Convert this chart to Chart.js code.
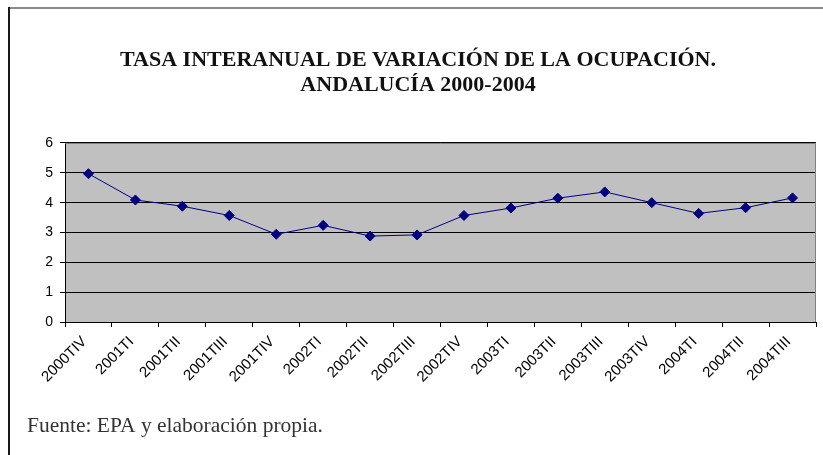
<!DOCTYPE html>
<html>
<head>
<meta charset="utf-8">
<script src="https://cdn.jsdelivr.net/npm/chart.js@4/dist/chart.umd.min.js"></script>
<style>
  html, body { margin: 0; padding: 0; background: #fff; }
  #wrap { width: 823px; height: 455px; position: relative; }
</style>
</head>
<body>
<div id="wrap"><canvas id="chart" width="823" height="455"></canvas></div>
<script>
const quarters = ['2000TIV', '2001TI', '2001TII', '2001TIII', '2001TIV', '2002TI', '2002TII', '2002TIII',
                  '2002TIV', '2003TI', '2003TII', '2003TIII', '2003TIV', '2004TI', '2004TII', '2004TIII']
const tasa = [4.97, 4.09, 3.88, 3.57, 2.94, 3.24, 2.88, 2.92, 3.57, 3.82, 4.15, 4.36, 4.0, 3.64, 3.83, 4.16]
const titleLines = ['TASA INTERANUAL DE VARIACIÓN DE LA OCUPACIÓN.', 'ANDALUCÍA 2000-2004']
const source = 'Fuente: EPA y elaboración propia.'

const navy = '#000080'

// grey plot background, plot border, outer frame and the source note
const decor = {
    id: 'decor',
    beforeDraw(chart){
        const ctx = chart.ctx
        const a = chart.chartArea
        ctx.save()
        ctx.fillStyle = '#c0c0c0'
        ctx.fillRect(a.left, a.top, a.right - a.left, a.bottom - a.top)
        ctx.restore()
    },
    afterDraw(chart){
        const ctx = chart.ctx
        const a = chart.chartArea
        ctx.save()
        ctx.lineWidth = 1
        ctx.strokeStyle = '#808080'
        ctx.beginPath()
        ctx.moveTo(a.left, a.top + 0.5)
        ctx.lineTo(a.right - 0.5, a.top + 0.5)
        ctx.lineTo(a.right - 0.5, a.bottom)
        ctx.stroke()
        // outer frame: grey top line, dark left line
        ctx.lineWidth = 2
        ctx.strokeStyle = '#8a8a8a'
        ctx.beginPath()
        ctx.moveTo(9, 8)
        ctx.lineTo(823, 8)
        ctx.stroke()
        ctx.strokeStyle = '#1a1a1a'
        ctx.beginPath()
        ctx.moveTo(9, 7)
        ctx.lineTo(9, 455)
        ctx.stroke()
        ctx.fillStyle = '#333'
        ctx.font = '21.5px "Liberation Serif", "Times New Roman", serif'
        ctx.textBaseline = 'alphabetic'
        ctx.fillText(source, 27, 432)
        ctx.restore()
    }
}

new Chart(document.getElementById('chart'), {
    type: 'line',
    data: {
        labels: quarters,
        datasets: [{
            data: tasa,
            borderColor: navy,
            backgroundColor: navy,
            borderWidth: 1,
            pointStyle: 'rectRot',
            pointRadius: 5,
            pointBorderWidth: 1,
            tension: 0,
        }]
    },
    options: {
        responsive: false,
        animation: false,
        layout: { padding: { left: 20, right: 7, top: 0, bottom: 0 } },
        plugins: {
            legend: { display: false },
            tooltip: { enabled: false },
            title: {
                display: true,
                text: titleLines,
                color: '#111',
                font: { family: '"Liberation Serif", "Times New Roman", serif', size: 22, weight: 'bold', lineHeight: 1.12 },
                padding: { top: 48, bottom: 45.7 }
            }
        },
        scales: {
            x: {
                offset: true,
                grid: {
                    offset: true,
                    drawOnChartArea: false,
                    drawTicks: true,
                    tickLength: 5,
                    color: '#000'
                },
                border: { color: '#000', width: 1 },
                ticks: {
                    minRotation: 45,
                    maxRotation: 45,
                    padding: 6,
                    labelOffset: -4,
                    color: '#000',
                    font: { family: '"Liberation Sans", Arial, sans-serif', size: 15 }
                },
                afterFit(scale){ scale.height = 133 }
            },
            y: {
                min: 0,
                max: 6,
                ticks: {
                    stepSize: 1,
                    padding: 7,
                    color: '#000',
                    font: { family: '"Liberation Sans", Arial, sans-serif', size: 14 }
                },
                grid: {
                    color: '#000',
                    lineWidth: 1,
                    tickLength: 5
                },
                border: { color: '#000', width: 1 },
                afterFit(scale){ scale.width = 45 }
            }
        }
    },
    plugins: [decor]
});
</script>
</body>
</html>
